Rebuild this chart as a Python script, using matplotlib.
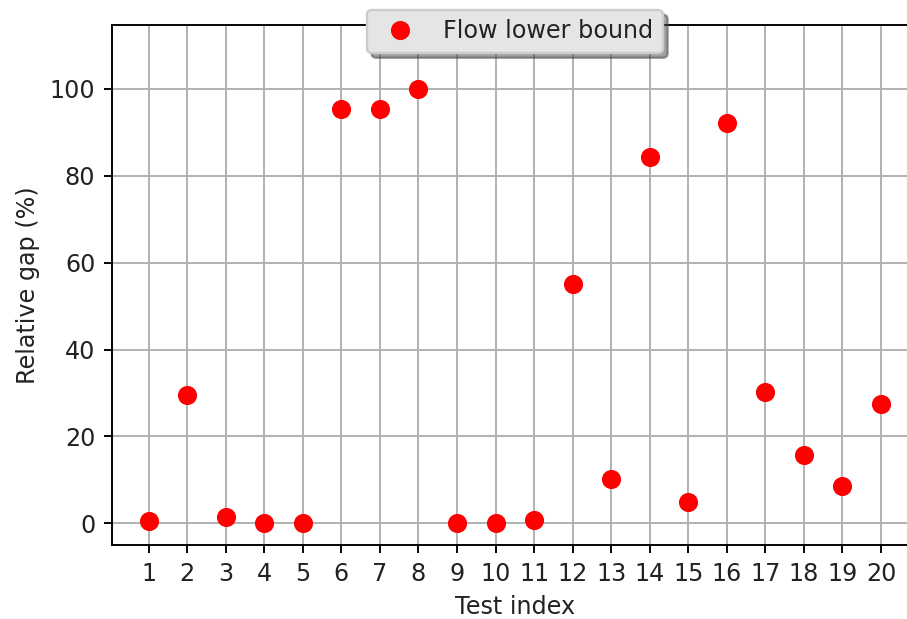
import matplotlib
matplotlib.use("Agg")
import matplotlib.pyplot as plt

test_index = list(range(1, 21))
relative_gap = [0.5, 29.5, 1.4, 0.0, 0.0, 95.4, 95.4, 100.0, 0.0, 0.0,
                0.8, 55.1, 10.2, 84.3, 4.8, 92.2, 30.2, 15.8, 8.6, 27.4]
series_label = "Flow lower bound"

dpi = 172
fig = plt.figure(figsize=(908 / dpi, 619 / dpi), dpi=dpi)
ax = fig.add_axes([112 / 908, 1 - 545 / 619, (917.6 - 112) / 908, (545 - 25) / 619])

ax.plot(test_index, relative_gap, 'o', color='red', markersize=7, label=series_label, zorder=3)
ax.set_xlim(0.05, 20.95)
ax.set_ylim(-5, 114.7)
ax.set_xticks(test_index)
ax.set_yticks([0, 20, 40, 60, 80, 100])
ax.grid(True, color='#b0b0b0', linewidth=0.8)
ax.set_axisbelow(True)
ax.set_xlabel("Test index", fontsize=10, color='#222222')
ax.set_ylabel("Relative gap (%)", fontsize=10, color='#222222')
ax.tick_params(labelsize=10, labelcolor='#222222')
leg = ax.legend(loc='upper center', bbox_to_anchor=(0.5, 1.052), shadow=True,
                fancybox=True, facecolor='#e5e5e5', edgecolor='#cccccc', framealpha=1,
                fontsize=10)
for t in leg.get_texts():
    t.set_color('#222222')

fig.savefig("out.png", dpi=dpi)
